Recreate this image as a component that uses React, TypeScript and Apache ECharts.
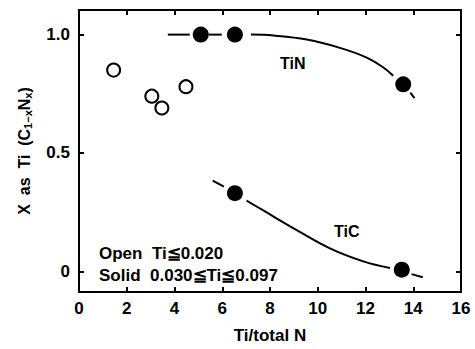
import React, { useEffect, useRef } from "react";
import * as echarts from "echarts";

// Open circles: Ti <= 0.020
const openX = [1.45, 3.05, 3.47, 4.48];
const openY = [0.85, 0.74, 0.69, 0.78];

// Solid circles: TiN
const tinX = [5.1, 6.53, 13.58];
const tinY = [1.0, 1.0, 0.79];
// Solid circles: TiC
const ticX = [6.53, 13.52];
const ticY = [0.33, 0.007];

// Hand-drawn TiN curve
const tinCurveX = [7.2, 8.14, 9.54, 10.93, 12.05, 12.75, 13.16];
const tinCurveY = [1.0, 0.996, 0.979, 0.944, 0.903, 0.861, 0.826];
const tinDashLeftX = [3.72, 4.64];
const tinDashLeftY = [1.0, 1.0];
const tinDashMidX = [5.44, 5.98];
const tinDashMidY = [1.0, 1.0];
const tinTailX = [13.88, 14.05];
const tinTailY = [0.755, 0.732];

// Hand-drawn TiC curve
const ticCurveX = [7.02, 7.72, 9.12, 10.51, 11.91, 13.03];
const ticCurveY = [0.299, 0.257, 0.174, 0.097, 0.042, 0.014];
const ticDashLeftX = [5.6, 6.07];
const ticDashLeftY = [0.383, 0.358];
const ticTailX = [13.93, 14.4];
const ticTailY = [-0.012, -0.025];

const yTicks = [0, 0.5, 1.0];
const yTickLabels: Record<string, string> = { "0": "0", "0.5": "0.5", "1": "1.0" };

const zip = (xs: number[], ys: number[]) => xs.map((x, i) => [x, ys[i]]);

const numFont = "'Liberation Sans', Arial, sans-serif";
const txtFont = "'Liberation Sans', Arial, sans-serif";

export default function App() {
  const ref = useRef<HTMLDivElement>(null);
  useEffect(() => {
    document.body.style.margin = "0";
    if (!ref.current) return;
    const chart = echarts.init(ref.current, null, { renderer: "svg" });
    const lineSeries = (xs: number[], ys: number[], smooth: boolean | number) => ({
      type: "line",
      data: zip(xs, ys),
      smooth,
      showSymbol: false,
      symbol: "none",
      lineStyle: { color: "#000", width: 2 },
      z: 2,
    });
    const axisCommon = {
      axisLine: { show: true, onZero: false, lineStyle: { color: "#000", width: 2 } },
      axisTick: { show: true, inside: true, length: 5, lineStyle: { color: "#000", width: 2 } },
      splitLine: { show: false },
    };
    chart.setOption({
      animation: false,
      backgroundColor: "#fff",
      grid: { left: 79, right: 14, top: 10, bottom: 53, containLabel: false },
      xAxis: [
        {
          type: "value",
          min: 0,
          max: 16,
          interval: 2,
          position: "bottom",
          ...axisCommon,
          axisLabel: {
            color: "#000",
            fontFamily: numFont,
            fontWeight: "bold",
            fontSize: 17,
            margin: 8,
          },
          name: "Ti/total N",
          nameLocation: "middle",
          nameGap: 35,
          nameTextStyle: { color: "#000", fontFamily: txtFont, fontWeight: "bold", fontSize: 17 },
        },
        {
          type: "value",
          min: 0,
          max: 16,
          interval: 2,
          position: "top",
          ...axisCommon,
          axisLabel: { show: false },
        },
      ],
      yAxis: [
        {
          type: "value",
          min: -0.0875,
          max: 1.104,
          position: "left",
          ...axisCommon,
          axisTick: { ...axisCommon.axisTick, customValues: yTicks },
          axisLabel: {
            customValues: yTicks,
            color: "#000",
            fontFamily: numFont,
            fontWeight: "bold",
            fontSize: 17,
            margin: 9,
            formatter: (v: number) => yTickLabels[String(v)] ?? String(v),
          },
          name: "{n|X  as  Ti  (C}{s|1−x}{n|N}{s|x}{n|)}",
          nameLocation: "middle",
          nameRotate: 90,
          nameGap: 46,
          nameTextStyle: {
            color: "#000",
            rich: {
              n: { fontFamily: txtFont, fontWeight: "bold", fontSize: 16, color: "#000" },
              s: { fontFamily: txtFont, fontWeight: "bold", fontSize: 11, color: "#000", verticalAlign: "bottom", padding: [6, 0, 0, 0] },
            },
          },
        },
        {
          type: "value",
          min: -0.0875,
          max: 1.104,
          position: "right",
          ...axisCommon,
          axisTick: { ...axisCommon.axisTick, customValues: yTicks },
          axisLabel: { show: false },
        },
      ],
      series: [
        lineSeries(tinCurveX, tinCurveY, 0.4),
        lineSeries(tinDashLeftX, tinDashLeftY, false),
        lineSeries(tinDashMidX, tinDashMidY, false),
        lineSeries(tinTailX, tinTailY, false),
        lineSeries(ticCurveX, ticCurveY, 0.4),
        lineSeries(ticDashLeftX, ticDashLeftY, false),
        lineSeries(ticTailX, ticTailY, false),
        {
          type: "scatter",
          data: zip(openX, openY),
          symbol: "circle",
          symbolSize: 13,
          itemStyle: { color: "#fff", borderColor: "#000", borderWidth: 2, opacity: 1 },
          z: 3,
        },
        {
          type: "scatter",
          data: zip(tinX, tinY),
          symbol: "circle",
          symbolSize: 16,
          itemStyle: { color: "#000", opacity: 1 },
          z: 3,
        },
        {
          type: "scatter",
          data: zip(ticX, ticY),
          symbol: "circle",
          symbolSize: 16,
          itemStyle: { color: "#000", opacity: 1 },
          z: 3,
        },
      ],
      graphic: [
        {
          type: "text",
          left: 280,
          top: 55,
          style: { text: "TiN", fill: "#000", font: `bold 16px ${txtFont}` },
        },
        {
          type: "text",
          left: 334,
          top: 223,
          style: { text: "TiC", fill: "#000", font: `bold 16px ${txtFont}` },
        },
        {
          type: "text",
          left: 99,
          top: 245,
          style: { text: "Open  Ti≦0.020", fill: "#000", font: `bold 17px ${txtFont}` },
        },
        {
          type: "text",
          left: 99,
          top: 267,
          style: { text: "Solid  0.030≦Ti≦0.097", fill: "#000", font: `bold 17px ${txtFont}` },
        },
      ],
    });
    return () => chart.dispose();
  }, []);
  return <div ref={ref} style={{ width: 475, height: 349 }} />;
}
